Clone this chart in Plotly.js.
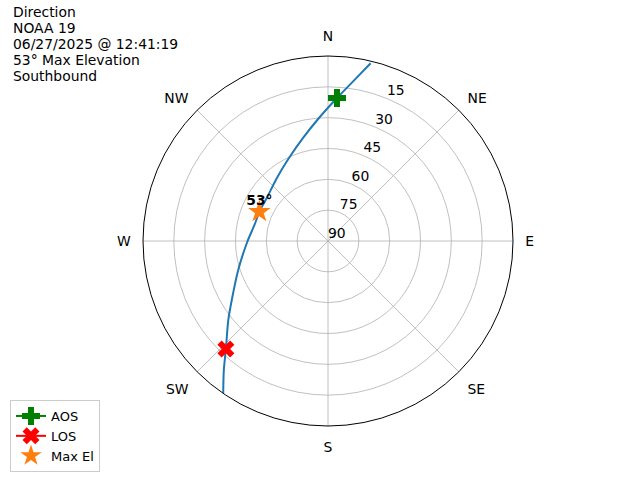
<!DOCTYPE html>
<html>
<head>
<meta charset="utf-8">
<script src="https://cdn.plot.ly/plotly-3.0.1.min.js"></script>
<style>html,body{margin:0;padding:0;background:#fff;}#chart{width:640px;height:480px;}</style>
</head>
<body>
<div id="chart"></div>
<script>
// Pass track: azimuth (deg, clockwise from N) and elevation (deg)
const trackAz = [13.5, 9.5, 3.6, 355.8, 346.4, 334.8, 321.0, 305.1, 293.1, 282.3, 269.3, 252.1, 238.5, 231.6, 223.4, 218.9, 214.5];
const trackEl = [1.1, 10.3, 20.3, 30.0, 38.4, 45.4, 50.5, 53.6, 53.7, 53.4, 50.7, 44.1, 35.1, 28.1, 17.7, 9.3, 0.0];
const aosAz = [3.6], aosEl = [20.3];
const losAz = [223.4], losEl = [17.7];
const maxAz = [293.1], maxEl = [53.7];
const maxLabel = ["53°"];
const dirVals = [0, 45, 90, 135, 180, 225, 270, 315];
const dirText = ["N", "NE", "E", "SE", "S", "SW", "W", "NW"];
const elTickVals = [90, 75, 60, 45, 30, 15];
const elTickText = ["90", "75", "60", "45", "30", "15"];
const elLabelAz = 22.5; // direction along which elevation labels are written
const titleLines = ["Direction", "NOAA 19", "06/27/2025 @ 12:41:19", "53° Max Elevation", "Southbound"];

const font = "DejaVu Sans, sans-serif";
const fs = 13.9;
const traces = [
  {type: "scatterpolar", theta: trackAz, r: trackEl, mode: "lines",
   line: {color: "#1f77b4", width: 2, shape: "spline", smoothing: 0.8}, showlegend: false, hoverinfo: "skip"},
  {type: "scatterpolar", theta: aosAz, r: aosEl, mode: "lines+markers", name: "AOS",
   line: {color: "green", width: 2}, marker: {symbol: "cross", size: 15, color: "green"}},
  {type: "scatterpolar", theta: losAz, r: losEl, mode: "lines+markers", name: "LOS",
   line: {color: "red", width: 2}, marker: {symbol: "x", size: 15, color: "red"}},
  {type: "scatterpolar", theta: maxAz, r: maxEl, mode: "markers", name: "Max El",
   marker: {symbol: "star", size: 17, color: "#ff7f0e"}},
  {type: "scatterpolar", theta: maxAz, r: maxEl, mode: "markers+text", text: maxLabel.map(t => "<b>" + t + "</b>"),
   marker: {size: 4, opacity: 0}, textposition: "top center", textfont: {family: font, size: fs, color: "black"},
   showlegend: false, hoverinfo: "skip"},
  // elevation tick labels, placed through the radial scale along one direction
  {type: "scatterpolar", theta: elTickVals.map(() => elLabelAz), r: elTickVals, mode: "text", text: elTickText,
   textposition: "top right", textfont: {family: font, size: fs, color: "black"},
   showlegend: false, hoverinfo: "skip", cliponaxis: false}
];

const annotations = titleLines.map((t, i) => ({
  xref: "paper", yref: "paper", x: 12/640, y: 1 - (12 + 16.1 * i)/480, xanchor: "left", yanchor: "middle",
  align: "left", showarrow: false, text: t, borderpad: 0, font: {family: font, size: fs, color: "black"}
}));

const layout = {
  width: 640, height: 480,
  margin: {l: 0, r: 0, t: 0, b: 0},
  paper_bgcolor: "white",
  font: {family: font, size: fs, color: "black"},
  polar: {
    domain: {x: [143/640, 513/640], y: [1 - 426/480, 1 - 56/480]},
    bgcolor: "white",
    angularaxis: {rotation: 90, direction: "clockwise", tickmode: "array", tickvals: dirVals, ticktext: dirText,
      showline: true, linecolor: "black", linewidth: 1, gridcolor: "#b0b0b0", gridwidth: 0.8,
      ticks: "outside", ticklen: 9, tickcolor: "rgba(0,0,0,0)", tickfont: {family: font, size: fs}},
    radialaxis: {range: [90, 0], tickmode: "array", tickvals: elTickVals, ticktext: elTickText,
      angle: 67.5, showticklabels: false, showline: false, ticks: "",
      gridcolor: "#b0b0b0", gridwidth: 0.8}
  },
  showlegend: true,
  legend: {x: 10/640, y: 1 - 472/480, xanchor: "left", yanchor: "bottom", bgcolor: "white",
    bordercolor: "#cccccc", borderwidth: 1, font: {family: font, size: 13}, tracegroupgap: 0},
  annotations: annotations
};
Plotly.newPlot("chart", traces, layout, {displayModeBar: false, staticPlot: true});
</script>
</body>
</html>
